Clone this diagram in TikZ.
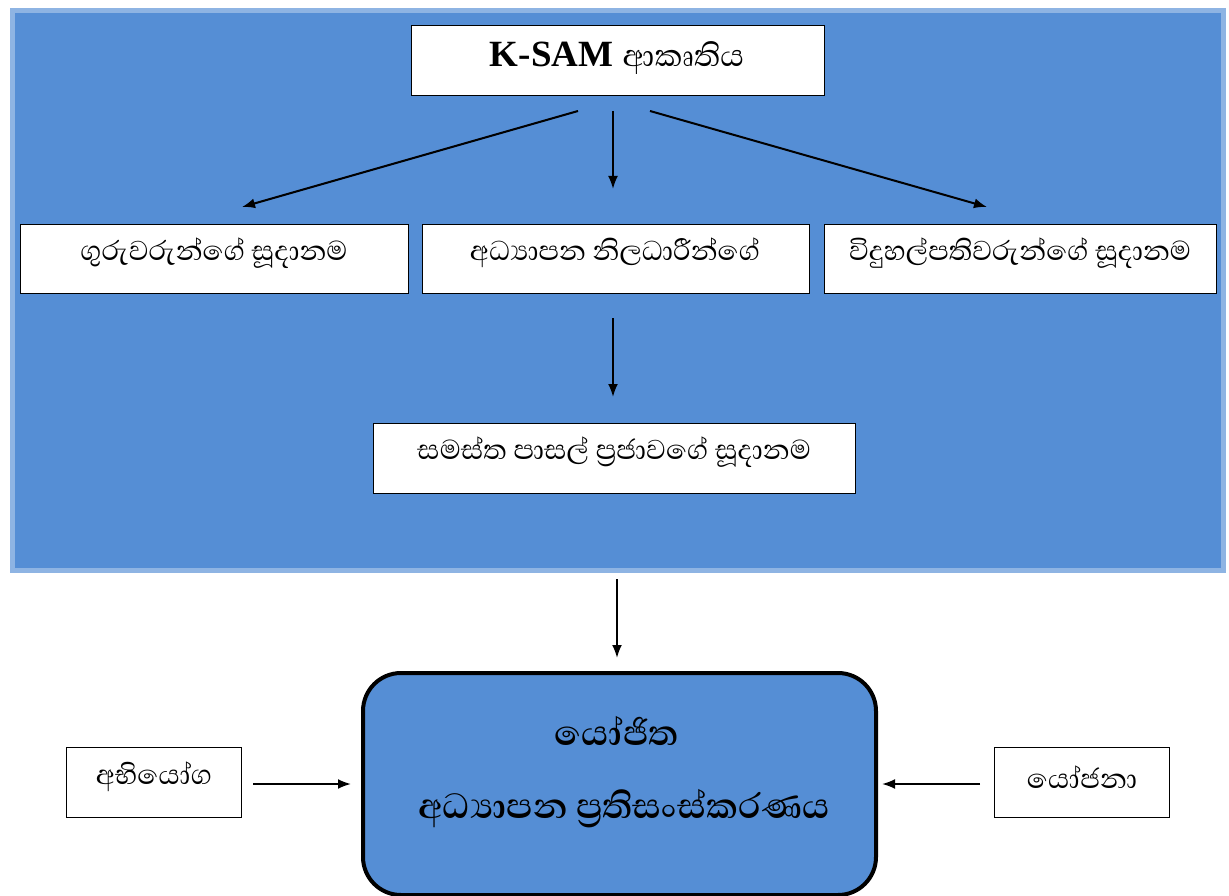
\documentclass[tikz,border=0pt]{standalone}
\usepackage{fontspec}
\setmainfont{Liberation Serif}
\newfontfamily\sinhalafont[Script=Sinhala]{Abhaya Libre}
\usetikzlibrary{arrows.meta}
\definecolor{fillblue}{HTML}{558ED5}
\definecolor{edgeblue}{HTML}{8EB4E3}
\tikzset{
  x=1pt, y=-1pt,
  whitebox/.style={draw=black, line width=1pt, fill=white, anchor=north west, inner sep=0pt},
  conn/.style={-{Latex[length=13pt,width=10pt]}, line width=2pt},
  txt/.style={font=\sinhalafont\fontsize{35}{40}\selectfont},
  bigtxt/.style={font=\sinhalafont\bfseries\fontsize{45}{50}\selectfont},
}
\begin{document}
\begin{tikzpicture}
\useasboundingbox (0,0) rectangle (1229,896);
% big panel
\node[draw=edgeblue, line width=5pt, fill=fillblue, anchor=north west, minimum width=1211pt, minimum height=559pt, inner sep=0pt] (panel) at (9.5,8.5) {};
% top box
\node[whitebox, minimum width=413pt, minimum height=70pt] (ksam) at (411,25) {};
\node[anchor=center] (ksamt) at (617,58) {\fontsize{37}{42}\selectfont\bfseries K-SAM {\sinhalafont\mdseries\fontsize{39}{44}\selectfont ආකෘතිය}};
% row boxes
\node[whitebox, minimum width=388pt, minimum height=69pt] (b1) at (20,224) {};
\node[whitebox, minimum width=387pt, minimum height=69pt] (b2) at (422,224) {};
\node[whitebox, minimum width=392pt, minimum height=69pt] (b3) at (824,224) {};
\node[txt] (t1) at (214,253) {ගුරුවරුන්ගේ සූදානම};
\node[txt] (t2) at (615,253) {අධ්‍යාපන නිලධාරීන්ගේ};
\node[txt] (t3) at (1020,253) {විදුහල්පතිවරුන්ගේ සූදානම};
% bottom box in panel
\node[whitebox, minimum width=482pt, minimum height=70pt] (b4) at (373,423) {};
\node[txt] (t4) at (614,452) {සමස්ත පාසල් ප්‍රජාවගේ සූදානම};
% coordinates for arrows
\coordinate (a1s) at (578,111); \coordinate (a1e) at (242,207);
\coordinate (a2s) at (613,111); \coordinate (a2e) at (613,189);
\coordinate (a3s) at (650,111); \coordinate (a3e) at (987,207);
\coordinate (a4s) at (613,318); \coordinate (a4e) at (613,397);
\coordinate (a5s) at (617,579); \coordinate (a5e) at (617,658);
\draw[conn] (a1s) -- (a1e);
\draw[conn] (a2s) -- (a2e);
\draw[conn] (a3s) -- (a3e);
\draw[conn] (a4s) -- (a4e);
\draw[conn] (a5s) -- (a5e);
% main rounded box
\node[draw=black, line width=4pt, fill=fillblue, rounded corners=38pt, anchor=north west, minimum width=513pt, minimum height=222pt, inner sep=0pt] (main) at (361,671) {};
\node[bigtxt] (m1) at (617,731) {යෝජිත};
\node[bigtxt] (m2) at (624,809) {අධ්‍යාපන ප්‍රතිසංස්කරණය};
% side boxes
\node[whitebox, minimum width=175pt, minimum height=70pt] (l) at (66,747) {};
\node[txt] (lt) at (154,777) {අභියෝග};
\node[whitebox, minimum width=175pt, minimum height=70pt] (r) at (994,747) {};
\node[txt] (rt) at (1082,777) {යෝජනා};
\coordinate (l1) at (253,784); \coordinate (l2) at (351,784);
\coordinate (r1) at (980,784); \coordinate (r2) at (882,784);
\draw[conn] (l1) -- (l2);
\draw[conn] (r1) -- (r2);
\end{tikzpicture}
\end{document}
